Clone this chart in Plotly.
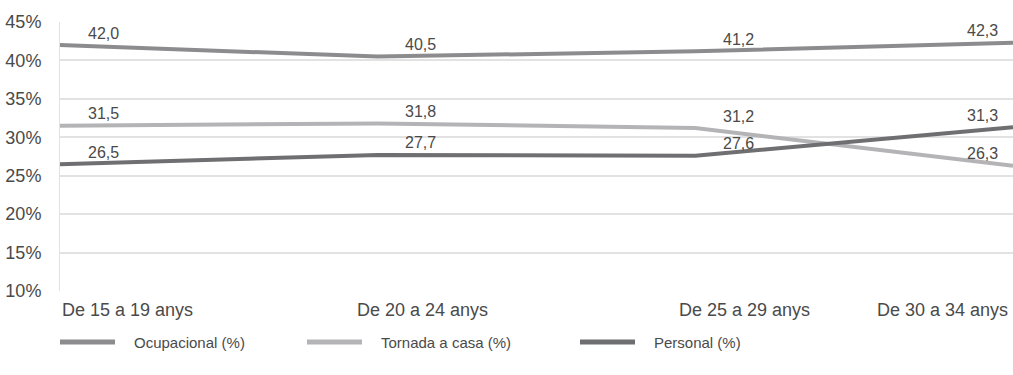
import plotly.graph_objects as go

# Age groups (x categories) and the three series, in percent
categories = ["De 15 a 19 anys", "De 20 a 24 anys", "De 25 a 29 anys", "De 30 a 34 anys"]
ocupacional = [42.0, 40.5, 41.2, 42.3]
tornada_casa = [31.5, 31.8, 31.2, 26.3]
personal = [26.5, 27.7, 27.6, 31.3]

series_names = ["Ocupacional (%)", "Tornada a casa (%)", "Personal (%)"]
series_values = [ocupacional, tornada_casa, personal]
series_colors = ["#8c8c8e", "#b4b4b6", "#6f6f72"]

y_ticks = [10, 15, 20, 25, 30, 35, 40, 45]

FONT = "Liberation Sans, Arial, Helvetica, sans-serif"
TEXT = "#4a4a4a"

W, H = 1013, 375
M_L, M_R, M_T, M_B = 60, 0, 22, 84
PLOT_W = W - M_L - M_R
PLOT_H = H - M_T - M_B

x_pos = list(range(len(categories)))

fig = go.Figure()
for name, vals, color in zip(series_names, series_values, series_colors):
    fig.add_trace(go.Scatter(
        x=x_pos, y=vals, name=name, mode="lines",
        line=dict(color=color, width=4),
        hoverinfo="skip", showlegend=False,
    ))

annotations = []
# value labels above each point
for vals in series_values:
    for i, v in enumerate(vals):
        last = i == len(vals) - 1
        annotations.append(dict(
            x=x_pos[i], y=v, xref="x", yref="y",
            text=f"{v:.1f}".replace(".", ","),
            showarrow=False,
            xanchor="right" if last else "center",
            xshift=-13 if last else 43,
            yshift=12, yanchor="middle",
            font=dict(family=FONT, size=16, color=TEXT),
        ))

# category labels under the axis
cat_anchor = ["left", "center", "center", "right"]
cat_shift = [0, 45, 49, -3]
for i, c in enumerate(categories):
    annotations.append(dict(
        x=x_pos[i], y=0, xref="x", yref="paper",
        text=c, showarrow=False,
        xanchor=cat_anchor[i], xshift=cat_shift[i],
        yanchor="top", yshift=-7,
        font=dict(family=FONT, size=18, color=TEXT),
    ))

# legend row below the chart: swatch line + label for each series
def px_x(px):
    return (px - M_L) / PLOT_W

def px_y(py):
    return (H - M_B - py) / PLOT_H

legend_starts = [60, 307, 580]
swatch_len = 55
legend_y = 342
shapes = []
for name, color, x0 in zip(series_names, series_colors, legend_starts):
    shapes.append(dict(
        type="line", xref="paper", yref="paper",
        x0=px_x(x0), x1=px_x(x0 + swatch_len),
        y0=px_y(legend_y), y1=px_y(legend_y),
        line=dict(color=color, width=5),
    ))
    annotations.append(dict(
        x=px_x(x0 + swatch_len + 17), y=px_y(legend_y),
        xref="paper", yref="paper", text=name, showarrow=False,
        xanchor="left", yanchor="middle",
        font=dict(family=FONT, size=15, color=TEXT),
    ))

fig.update_layout(
    width=W, height=H,
    margin=dict(l=M_L, r=M_R, t=M_T, b=M_B),
    paper_bgcolor="white", plot_bgcolor="white",
    font=dict(family=FONT, color=TEXT),
    showlegend=False,
    annotations=annotations,
    shapes=shapes,
    xaxis=dict(
        range=[0, len(categories) - 1],
        showticklabels=False, showgrid=False, zeroline=False,
        showline=False, fixedrange=True,
    ),
    yaxis=dict(
        range=[y_ticks[0], y_ticks[-1]],
        tickvals=y_ticks, ticktext=[f"{t}%" for t in y_ticks],
        gridcolor="#e2e2e2", gridwidth=1.5,
        zeroline=False, showline=True, linecolor="#e2e2e2", linewidth=1,
        ticks="", ticklabelstandoff=14,
        tickfont=dict(family=FONT, size=18, color=TEXT),
        fixedrange=True,
    ),
)

fig.write_html("out.html")
